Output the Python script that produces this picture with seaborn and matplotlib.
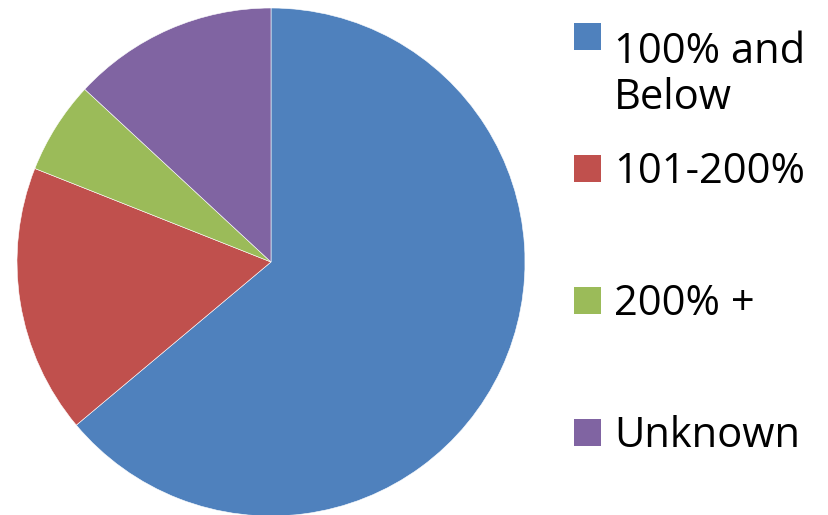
import matplotlib
matplotlib.use("Agg")
from matplotlib import pyplot as plt
from matplotlib.patches import Rectangle
import seaborn as sns

labels = ["100% and\nBelow", "101-200%", "200% +", "Unknown"]
shares = [63.9, 17.1, 5.9, 13.1]
colors = ["#4F81BD", "#C0504D", "#9BBB59", "#8064A2"]

sns.set_theme(style="white")
plt.rcParams['font.family'] = ['Open Sans', 'DejaVu Sans']

fig = plt.figure(figsize=(8.29, 5.15), dpi=100)
ax = fig.add_axes([17 / 829, -1 / 515, 508 / 829, 508 / 515])
ax.pie(shares, colors=colors, startangle=90, counterclock=False,
       wedgeprops=dict(edgecolor="white", linewidth=0.4))
ax.set_xlim(-1, 1)
ax.set_ylim(-1, 1)
ax.set_aspect("equal")
ax.axis("off")

# legend, drawn by hand so the square sits on the first text line
W, H = 829, 515
row_top = [23, 155, 287, 419]
line_gap = 58
for lab, col, top in zip(labels, colors, row_top):
    fig.patches.append(Rectangle((574 / W, (H - top - 27) / H), 27 / W, 27 / H,
                                 transform=fig.transFigure, facecolor=col,
                                 edgecolor="none"))
    base = top + 28 + (lab.count("\n")) * line_gap
    fig.text(614 / W, (H - base) / H, lab, fontsize=30, va="baseline",
             ha="left", color="black", linespacing=1.13)

fig.savefig("out.png", dpi=100)
